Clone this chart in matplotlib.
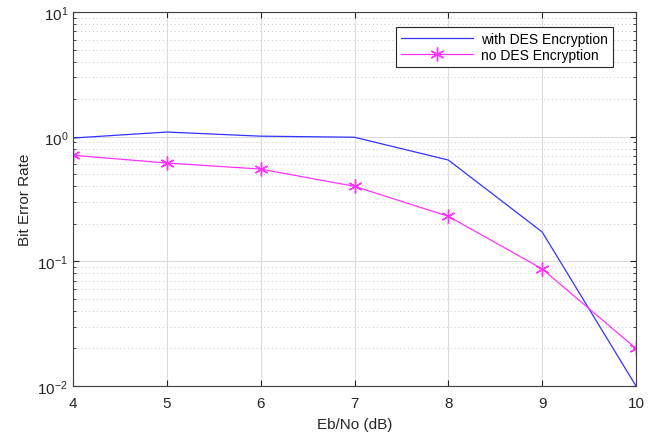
import matplotlib
matplotlib.use("Agg")
import matplotlib.pyplot as plt
from matplotlib.ticker import LogLocator, NullFormatter

plt.rcParams['font.family'] = ['Liberation Sans', 'DejaVu Sans']

ebno = [4, 5, 6, 7, 8, 9, 10]
ber_des = [0.976, 1.09, 1.01, 0.99, 0.65, 0.172, 0.01]
ber_nodes = [0.71, 0.615, 0.55, 0.40, 0.23, 0.087, 0.02]
xticks = [4, 5, 6, 7, 8, 9, 10]

fig = plt.figure(figsize=(6.54, 4.35), dpi=100)
ax = fig.add_axes([0.1116, 0.1103, 0.8609, 0.8597])

ax.plot(ebno, ber_des, color=(0.2, 0.2, 1.0), lw=0.9, label='with DES Encryption')
ax.plot(ebno, ber_nodes, color=(1.0, 0.2, 1.0), lw=0.9, marker=(6, 2, 0), markersize=10,
        markeredgewidth=1.0, label='no DES Encryption')

ax.set_yscale('log')
ax.set_xlim(4, 10)
ax.set_ylim(1e-2, 1e1)
ax.set_xticks(xticks)
ax.yaxis.set_major_locator(LogLocator(base=10, numticks=10))
ax.yaxis.set_minor_locator(LogLocator(base=10, subs=range(2, 10), numticks=20))
ax.yaxis.set_minor_formatter(NullFormatter())

ax.grid(True, which='major', color='#dcdcdc', lw=0.8, ls='-')
ax.grid(True, which='minor', axis='y', color='#c8c8c8', lw=0.7, ls=(0, (1, 3)))
ax.set_axisbelow(True)

ax.tick_params(which='both', direction='in', top=True, right=True, labelsize=11,
               color='#262626', labelcolor='#262626')
ax.tick_params(which='major', length=4)
ax.tick_params(which='minor', length=2)
ax.tick_params(axis='x', pad=7)
for s in ax.spines.values():
    s.set_color('#404040')
    s.set_linewidth(0.8)

ax.set_xlabel('Eb/No (dB)', fontsize=11, color='#262626', labelpad=5)
ax.set_ylabel('Bit Error Rate', fontsize=11, color='#262626')

leg = ax.legend(loc='upper right', bbox_to_anchor=(0.959, 0.960), borderaxespad=0,
                fontsize=10, fancybox=False, edgecolor='#262626', framealpha=1,
                handlelength=5.2, borderpad=0.35, labelspacing=0.15, handletextpad=0.6)
leg.get_frame().set_linewidth(0.8)

fig.savefig('out.png', dpi=100)
